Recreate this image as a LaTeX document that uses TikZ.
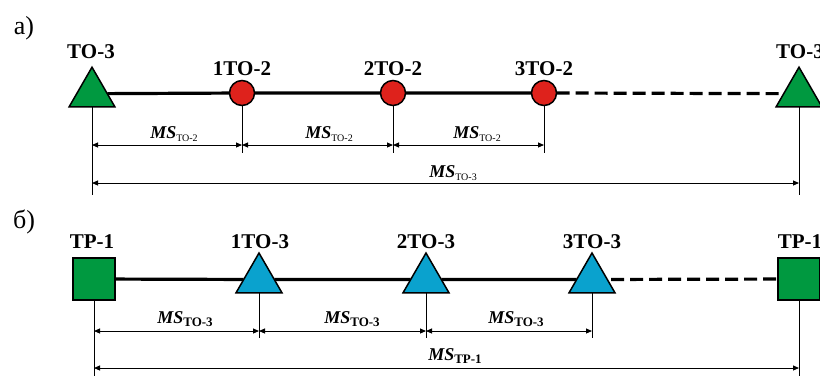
\documentclass[tikz,border=0pt]{standalone}
\usepackage{fontspec}
\setmainfont{Liberation Serif}
\usetikzlibrary{shapes.geometric,arrows.meta,backgrounds}
\definecolor{tgreen}{RGB}{0,153,64}
\definecolor{cred}{RGB}{222,34,28}
\definecolor{tblue}{RGB}{10,162,206}
\newcommand\MSa[1]{\fontsize{18}{18}\selectfont\textbf{\textit{MS}}\raisebox{-3pt}{\fontsize{10}{10}\selectfont #1}}
\newcommand\MSb[1]{\fontsize{18}{18}\selectfont\textbf{\textit{MS}}\raisebox{-3.5pt}{\fontsize{13}{13}\selectfont\bfseries #1}}
\tikzset{
  tri/.style={draw=black,line width=1.5pt,regular polygon,regular polygon sides=3,minimum size=53pt,inner sep=0pt,outer sep=0pt},
  circ/.style={draw=black,line width=1.5pt,circle,fill=cred,minimum size=25pt,inner sep=0pt,outer sep=0pt},
  sq/.style={draw=black,line width=1.5pt,rectangle,fill=tgreen,minimum size=42pt,inner sep=0pt,outer sep=0pt},
  lbl/.style={anchor=base,inner sep=0pt,font=\fontsize{21}{21}\selectfont\bfseries},
  panel/.style={anchor=base,inner sep=0pt,font=\fontsize{26}{26}\selectfont},
  mslbl/.style={anchor=base,inner sep=0pt},
  mainline/.style={line width=3.2pt},
  dashline/.style={line width=3.2pt,dash pattern=on 13pt off 6pt},
  leader/.style={line width=0.9pt},
  dim/.style={line width=0.9pt,{Triangle[length=6pt,width=5pt]}-{Triangle[length=6pt,width=5pt]}}
}
\begin{document}
\begin{tikzpicture}[x=1pt,y=-1pt]
\useasboundingbox (0,0) rectangle (820,376);
\clip (0,0) rectangle (820,376);
% ---------- panel a
\node[panel] (pa) at (24,34) {а)};
\node[tri,fill=tgreen] (t1) at (92,93.7) {};
\node[circ] (c1) at (242,93) {};
\node[circ] (c2) at (393,93) {};
\node[circ] (c3) at (544,93) {};
\node[tri,fill=tgreen] (t2) at (799,93.7) {};
\node[lbl] (lt1) at (91,58) {ТО-3};
\node[lbl] (lc1) at (242,75) {1ТО-2};
\node[lbl] (lc2) at (393,75) {2ТО-2};
\node[lbl] (lc3) at (544,75) {3ТО-2};
\node[lbl] (lt2) at (800,58) {ТО-3};
\begin{scope}[on background layer]
\draw[mainline] (t1) -- (c1) -- (c2) -- (c3);
\draw[dashline] (c3.east) -- (t2);
\end{scope}
\coordinate (e1) at (92,195);
\coordinate (e2) at (242,153);
\coordinate (e3) at (393,153);
\coordinate (e4) at (544,153);
\coordinate (e5) at (799,195);
\draw[leader] (t1.south) -- (e1);
\draw[leader] (c1.south) -- (e2);
\draw[leader] (c2.south) -- (e3);
\draw[leader] (c3.south) -- (e4);
\draw[leader] (t2.south) -- (e5);
\draw[dim] (t1 |- 0,145) -- (c1 |- 0,145);
\draw[dim] (c1 |- 0,145) -- (c2 |- 0,145);
\draw[dim] (c2 |- 0,145) -- (c3 |- 0,145);
\draw[dim] (t1 |- 0,183) -- (t2 |- 0,183);
\node[mslbl] (m1) at (174,138) {\MSa{TO-2}};
\node[mslbl] (m2) at (329,138) {\MSa{TO-2}};
\node[mslbl] (m3) at (477,138) {\MSa{TO-2}};
\node[mslbl] (m4) at (453,177) {\MSa{TO-3}};
% ---------- panel b
\node[panel] (pb) at (24,228) {б)};
\node[sq] (s1) at (94,279) {};
\node[tri,fill=tblue] (r1) at (259,279.5) {};
\node[tri,fill=tblue] (r2) at (426,279.5) {};
\node[tri,fill=tblue] (r3) at (592,279.5) {};
\node[sq] (s2) at (799,279) {};
\node[lbl] (ls1) at (92,248) {ТР-1};
\node[lbl] (lr1) at (260,248) {1ТО-3};
\node[lbl] (lr2) at (426,248) {2ТО-3};
\node[lbl] (lr3) at (592,248) {3ТО-3};
\node[lbl] (ls2) at (800,248) {ТР-1};
\begin{scope}[on background layer]
\draw[mainline] (s1) -- (r1) -- (r2) -- (r3);
\draw[dashline] (r3.center) -- (s2);
\end{scope}
\coordinate (f1) at (94,376);
\coordinate (f2) at (259,338);
\coordinate (f3) at (426,338);
\coordinate (f4) at (592,338);
\coordinate (f5) at (799,376);
\draw[leader] (s1.south) -- (f1);
\draw[leader] (r1.south) -- (f2);
\draw[leader] (r2.south) -- (f3);
\draw[leader] (r3.south) -- (f4);
\draw[leader] (s2.south) -- (f5);
\draw[dim] (s1 |- 0,331) -- (r1 |- 0,331);
\draw[dim] (r1 |- 0,331) -- (r2 |- 0,331);
\draw[dim] (r2 |- 0,331) -- (r3 |- 0,331);
\draw[dim] (s1 |- 0,368) -- (s2 |- 0,368);
\node[mslbl] (n1) at (185,323) {\MSb{ТО-3}};
\node[mslbl] (n2) at (352,323) {\MSb{ТО-3}};
\node[mslbl] (n3) at (516,323) {\MSb{ТО-3}};
\node[mslbl] (n4) at (455,360) {\MSb{ТР-1}};
\end{tikzpicture}
\end{document}
